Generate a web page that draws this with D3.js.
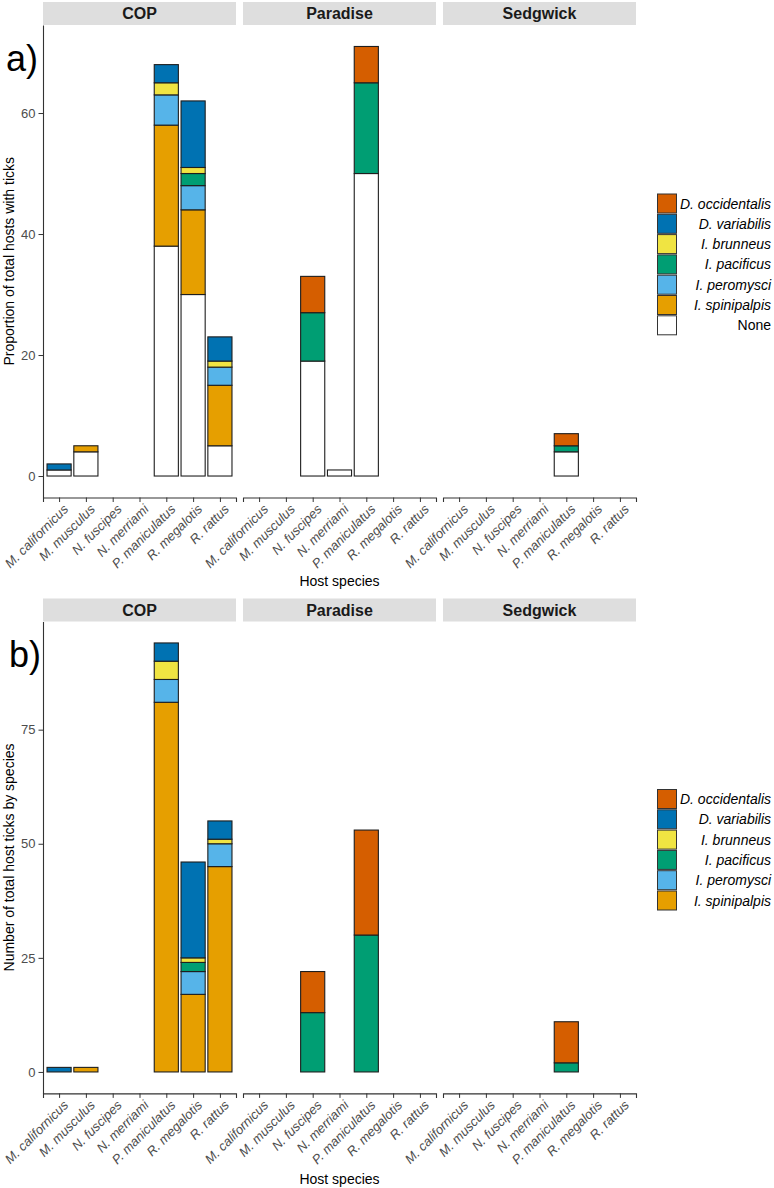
<!DOCTYPE html>
<html><head><meta charset="utf-8">
<script src="https://cdn.jsdelivr.net/npm/d3@7"></script>
<style>body{margin:0;background:#fff} text{font-family:"Liberation Sans",Arial,sans-serif}</style>
</head><body><svg id="c" width="774" height="1188"></svg>
<script>
const N = null;
const sites = ["COP", "Paradise", "Sedgwick"];
const hosts = ["M. californicus", "M. musculus", "N. fuscipes", "N. merriami", "P. maniculatus", "R. megalotis", "R. rattus"];
const legendSpecies = ["D. occidentalis", "D. variabilis", "I. brunneus", "I. pacificus", "I. peromysci", "I. spinipalpis", "None"];
const speciesColors = ["#D55E00", "#0072B2", "#F0E442", "#009E73", "#56B4E9", "#E69F00", "#FFFFFF"];
const yTicksA = [0, 20, 40, 60];
const yTicksB = [0, 25, 50, 75];

// Panel a: hosts with ticks (COP x7, Paradise x7, Sedgwick x7)
const aNone        = [1,4,N,N,38,30,5,  N,N,19,1,50,N,N,  N,N,N,N,4,N,N];
const aSpinipalpis = [N,1,N,N,20,14,10, N,N,N,N,N,N,N,    N,N,N,N,N,N,N];
const aPeromysci   = [N,N,N,N,5,4,3,    N,N,N,N,N,N,N,    N,N,N,N,N,N,N];
const aPacificus   = [N,N,N,N,N,2,N,    N,N,8,N,15,N,N,   N,N,N,N,1,N,N];
const aBrunneus    = [N,N,N,N,2,1,1,    N,N,N,N,N,N,N,    N,N,N,N,N,N,N];
const aVariabilis  = [1,N,N,N,3,11,4,   N,N,N,N,N,N,N,    N,N,N,N,N,N,N];
const aOccidentalis= [N,N,N,N,N,N,N,    N,N,6,N,6,N,N,    N,N,N,N,2,N,N];

// Panel b: ticks by species
const bSpinipalpis = [N,1,N,N,81,17,45, N,N,N,N,N,N,N,    N,N,N,N,N,N,N];
const bPeromysci   = [N,N,N,N,5,5,5,    N,N,N,N,N,N,N,    N,N,N,N,N,N,N];
const bPacificus   = [N,N,N,N,N,2,N,    N,N,13,0,30,N,N,  N,N,N,N,2,N,N];
const bBrunneus    = [N,N,N,N,4,1,1,    N,N,N,N,N,N,N,    N,N,N,N,N,N,N];
const bVariabilis  = [1,N,N,N,4,21,4,   N,N,N,N,N,N,N,    N,N,N,N,N,N,N];
const bOccidentalis= [N,N,N,N,N,N,N,    N,N,9,N,23,N,N,   N,N,N,N,9,N,N];

const panels = [
  { label: "a)", yTitle: "Proportion of total hosts with ticks", ticks: yTicksA,
    series: { "None": aNone, "I. spinipalpis": aSpinipalpis, "I. peromysci": aPeromysci, "I. pacificus": aPacificus,
              "I. brunneus": aBrunneus, "D. variabilis": aVariabilis, "D. occidentalis": aOccidentalis },
    legend: legendSpecies,
    stripTop: 2, top: 25, bottom: 497.5, legendY: 203.5, xTitleY: 586, labelX: 6, labelY: 71 },
  { label: "b)", yTitle: "Number of total host ticks by species", ticks: yTicksB,
    series: { "I. spinipalpis": bSpinipalpis, "I. peromysci": bPeromysci, "I. pacificus": bPacificus,
              "I. brunneus": bBrunneus, "D. variabilis": bVariabilis, "D. occidentalis": bOccidentalis },
    legend: legendSpecies.slice(0, 6),
    stripTop: 598.5, top: 621.5, bottom: 1093.4, legendY: 799, xTitleY: 1184, labelX: 9, labelY: 667 }
];
const stackOrder = legendSpecies.slice().reverse(); // bottom to top
const colorOf = d3.scaleOrdinal().domain(legendSpecies).range(speciesColors);

const svg = d3.select("#c");
const facetX = [43, 243, 443];
const facetW = 193;

panels.forEach(p => {
  const totals = d3.range(21).map(i => d3.sum(stackOrder, s => (p.series[s] ? (p.series[s][i] || 0) : 0)));
  const maxV = d3.max(totals);
  const y = d3.scaleLinear().domain([-0.05 * maxV, 1.05 * maxV]).range([p.bottom, p.top]);
  const g = svg.append("g");

  sites.forEach((site, si) => {
    const x0 = facetX[si];
    const x = d3.scalePoint().domain(hosts).range([x0, x0 + facetW]).padding(0.6);
    const bw = x.step() * 0.9;
    g.append("rect").attr("x", x0).attr("y", p.stripTop).attr("width", facetW).attr("height", p.top - p.stripTop)
      .attr("fill", "#DEDEDE");
    g.append("text").attr("x", x0 + facetW / 2).attr("y", (p.stripTop + p.top) / 2).attr("dy", "0.36em")
      .attr("text-anchor", "middle").attr("font-weight", "bold").attr("font-size", 16).attr("fill", "#1A1A1A").text(site);
    hosts.forEach((h, hi) => {
      let cum = 0;
      stackOrder.forEach(sp => {
        const arr = p.series[sp];
        if (!arr) return;
        const v = arr[si * 7 + hi];
        if (v === null || v === undefined) return;
        g.append("rect").attr("x", x(h) - bw / 2).attr("y", y(cum + v)).attr("width", bw)
          .attr("height", y(cum) - y(cum + v)).attr("fill", colorOf(sp)).attr("stroke", "#1E1E1E").attr("stroke-width", 1.1);
        cum += v;
      });
    });
    const ax = g.append("g").attr("transform", `translate(0,${p.bottom})`).call(d3.axisBottom(x).tickSize(4.5).tickPadding(3));
    ax.select(".domain").attr("stroke", "#333").attr("stroke-width", 1.1);
    ax.selectAll(".tick line").attr("stroke", "#333");
    ax.selectAll(".tick text").attr("font-size", 13).attr("font-style", "italic").attr("fill", "#4D4D4D")
      .attr("font-family", "Liberation Sans, Arial, sans-serif")
      .attr("y", 0).attr("dy", "0.7em")
      .attr("text-anchor", "end").attr("transform", "translate(3,6) rotate(-45)");
  });

  const ay = g.append("g").attr("transform", `translate(${facetX[0]},0)`).call(d3.axisLeft(y).tickValues(p.ticks).tickSize(4.5).tickPadding(3).tickSizeOuter(0));
  ay.select(".domain").attr("stroke", "#333").attr("stroke-width", 1.1);
  ay.selectAll(".tick line").attr("stroke", "#333");
  ay.selectAll(".tick text").attr("font-size", 13).attr("fill", "#4D4D4D").attr("font-family", "Liberation Sans, Arial, sans-serif");

  g.append("text").attr("transform", `translate(14,${(p.top + p.bottom) / 2}) rotate(-90)`).attr("text-anchor", "middle")
    .attr("font-size", 14).attr("fill", "#000").text(p.yTitle);
  g.append("text").attr("x", (facetX[0] + facetX[2] + facetW) / 2).attr("y", p.xTitleY).attr("text-anchor", "middle")
    .attr("font-size", 14).attr("fill", "#000").text("Host species");
  g.append("text").attr("x", p.labelX).attr("y", p.labelY).attr("font-size", 36).attr("fill", "#000").text(p.label);

  p.legend.forEach((sp, i) => {
    const cy = p.legendY + i * 20.3;
    g.append("rect").attr("x", 657.5).attr("y", cy - 9.5).attr("width", 19).attr("height", 19)
      .attr("fill", colorOf(sp)).attr("stroke", "#333").attr("stroke-width", 1);
    g.append("text").attr("x", 771).attr("y", cy).attr("dy", "0.36em").attr("text-anchor", "end")
      .attr("font-size", 14).attr("font-style", sp === "None" ? "normal" : "italic").attr("fill", "#000").text(sp);
  });
});
</script></body></html>
